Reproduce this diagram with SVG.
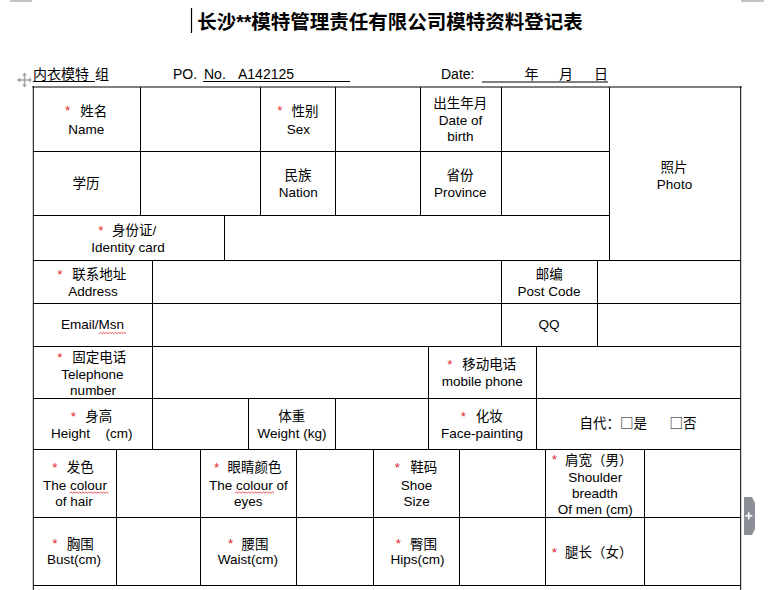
<svg xmlns="http://www.w3.org/2000/svg" width="777" height="590" viewBox="0 0 777 590">
<style>
text{font-family:"Liberation Sans","Noto Sans CJK SC",sans-serif;font-size:13.5px;fill:#000}
.c{text-anchor:middle}
.s{text-anchor:middle;fill:#e3262b}
.g line{stroke:#000;stroke-width:1}
.b{stroke:#000;stroke-width:2}
.w{fill:none;stroke:#e3262b;stroke-width:0.8}
.h{font-size:14px}
.k{font-family:"Noto Sans CJK SC",sans-serif}
</style>
<rect width="777" height="590" fill="#fff"/>
<g id="page-marks">
<line x1="10" y1="1" x2="32" y2="1" stroke="#9a9a9a" stroke-width="1.2"/>
<line x1="741" y1="1" x2="764" y2="1" stroke="#9a9a9a" stroke-width="1.2"/>
<line x1="191.5" y1="8" x2="191.5" y2="33" stroke="#000" stroke-width="1.2"/>
</g>
<g id="title">
<text x="390" y="29" class="c" style="font-size:19.5px;font-weight:bold">长沙**模特管理责任有限公司模特资料登记表</text>
</g>
<g id="move-handle" fill="#9aa0a6">
<polygon points="24.5,72.5 27,75.5 22,75.5"/>
<polygon points="24.5,87.5 27,84.5 22,84.5"/>
<polygon points="17,80 20,77.5 20,82.5"/>
<polygon points="32,80 29,77.5 29,82.5"/>
<rect x="23.8" y="75" width="1.4" height="10"/>
<rect x="19.5" y="79.3" width="10" height="1.4"/>
</g>
<g id="header">
<text x="33" y="79" class="h">内衣模特<tspan x="95">组</tspan></text>
<line x1="33" y1="81.5" x2="95" y2="81.5" stroke="#000" stroke-width="1"/>
<text x="173" y="79" class="h">PO.<tspan x="204">No.</tspan><tspan x="238">A142125</tspan></text>
<line x1="203" y1="81.5" x2="350" y2="81.5" stroke="#000" stroke-width="1"/>
<text x="441" y="79" class="h">Date:</text>
<line x1="482" y1="82" x2="608" y2="82" stroke="#000" stroke-width="1"/>
<text x="524.5" y="79" class="h">年<tspan x="559">月</tspan><tspan x="594">日</tspan></text>
</g>
<g id="connectors" class="g">
<line class="b" x1="32.3" y1="87" x2="741.7" y2="87"/>
<line class="b" x1="33.3" y1="86" x2="33.3" y2="590"/>
<line class="b" x1="740.7" y1="86" x2="740.7" y2="590"/>
<line x1="33" y1="151.5" x2="609.5" y2="151.5"/>
<line x1="33" y1="215.5" x2="609.5" y2="215.5"/>
<line x1="33" y1="260.5" x2="741" y2="260.5"/>
<line x1="33" y1="303.5" x2="741" y2="303.5"/>
<line x1="33" y1="346.5" x2="741" y2="346.5"/>
<line x1="33" y1="398.5" x2="741" y2="398.5"/>
<line x1="33" y1="449.5" x2="741" y2="449.5"/>
<line x1="33" y1="517.5" x2="741" y2="517.5"/>
<line x1="33" y1="585.5" x2="741" y2="585.5"/>
<line x1="140.5" y1="87" x2="140.5" y2="215.5"/>
<line x1="260.5" y1="87" x2="260.5" y2="215.5"/>
<line x1="335.5" y1="87" x2="335.5" y2="215.5"/>
<line x1="420.5" y1="87" x2="420.5" y2="215.5"/>
<line x1="501.5" y1="87" x2="501.5" y2="215.5"/>
<line x1="609.5" y1="87" x2="609.5" y2="260.5"/>
<line x1="224.5" y1="215.5" x2="224.5" y2="260.5"/>
<line x1="152.5" y1="260.5" x2="152.5" y2="449.5"/>
<line x1="501.5" y1="260.5" x2="501.5" y2="346.5"/>
<line x1="597.5" y1="260.5" x2="597.5" y2="346.5"/>
<line x1="428.5" y1="346.5" x2="428.5" y2="449.5"/>
<line x1="536.5" y1="346.5" x2="536.5" y2="449.5"/>
<line x1="248.5" y1="398.5" x2="248.5" y2="449.5"/>
<line x1="335.5" y1="398.5" x2="335.5" y2="449.5"/>
<line x1="116.5" y1="449.5" x2="116.5" y2="585.5"/>
<line x1="200.5" y1="449.5" x2="200.5" y2="585.5"/>
<line x1="296.5" y1="449.5" x2="296.5" y2="585.5"/>
<line x1="373.5" y1="449.5" x2="373.5" y2="585.5"/>
<line x1="459.5" y1="449.5" x2="459.5" y2="585.5"/>
<line x1="545.5" y1="449.5" x2="545.5" y2="585.5"/>
<line x1="644.5" y1="449.5" x2="644.5" y2="585.5"/>
</g>
<g id="name"><text x="67.7" y="115" class="s">*</text><text x="93.7" y="115.5" class="c">姓名</text><text x="86.3" y="134" class="c">Name</text></g>
<g id="sex"><text x="280" y="115" class="s">*</text><text x="305" y="115.5" class="c">性别</text><text x="298.3" y="134" class="c">Sex</text></g>
<g id="birth"><text x="460.3" y="107.5" class="c">出生年月</text><text x="460.5" y="125" class="c">Date of</text><text x="460.5" y="141" class="c">birth</text></g>
<g id="photo"><text x="674" y="172" class="c">照片</text><text x="674.5" y="188.5" class="c">Photo</text></g>
<g id="education"><text x="86" y="188" class="c">学历</text></g>
<g id="nation"><text x="298" y="180" class="c">民族</text><text x="298.2" y="197" class="c">Nation</text></g>
<g id="province"><text x="460" y="180" class="c">省份</text><text x="460.3" y="197" class="c">Province</text></g>
<g id="idcard"><text x="101" y="234.5" class="s">*</text><text x="112" y="235">身份证/</text><text x="128" y="252" class="c">Identity card</text></g>
<g id="address"><text x="60" y="278.5" class="s">*</text><text x="99.2" y="279" class="c">联系地址</text><text x="93" y="296" class="c">Address</text></g>
<g id="postcode"><text x="549.3" y="279" class="c">邮编</text><text x="549" y="296" class="c">Post Code</text></g>
<g id="email"><text x="92.5" y="329" class="c">Email/Msn</text>
<path class="w" d="M99,333.6 l1.5,-1.2 l1.5,1.2 l1.5,-1.2 l1.5,1.2 l1.5,-1.2 l1.5,1.2 l1.5,-1.2 l1.5,1.2 l1.5,-1.2 l1.5,1.2 l1.5,-1.2 l1.5,1.2 l1.5,-1.2 l1.5,1.2 l1.5,-1.2 l1.5,1.2 l1.5,-1.2 l1.5,1.2"/></g>
<g id="qq"><text x="549" y="329" class="c">QQ</text></g>
<g id="telephone"><text x="60" y="361.5" class="s">*</text><text x="99.2" y="362" class="c">固定电话</text><text x="92.3" y="378.5" class="c">Telephone</text><text x="93" y="394.5" class="c">number</text></g>
<g id="mobile"><text x="450" y="368.5" class="s">*</text><text x="489.2" y="369" class="c">移动电话</text><text x="482.3" y="386" class="c">mobile phone</text></g>
<g id="height"><text x="73.3" y="420.5" class="s">*</text><text x="98.8" y="421" class="c">身高</text><text x="51" y="438">Height<tspan x="105.5">(cm)</tspan></text></g>
<g id="weight"><text x="291.7" y="421" class="c">体重</text><text x="292" y="438" class="c">Weight (kg)</text></g>
<g id="makeup"><text x="463.3" y="420.5" class="s">*</text><text x="489.3" y="421" class="c">化妆</text><text x="482" y="438" class="c">Face-painting</text></g>
<g id="self"><text x="579.5" y="428" class="k">自代：□是</text><text x="669.5" y="428" class="k">□否</text></g>
<g id="hair"><text x="55" y="471.5" class="s">*</text><text x="80.3" y="472" class="c">发色</text><text x="75" y="490" class="c">The colour</text><text x="74" y="506" class="c">of hair</text>
<path class="w" d="M69.3,493.2 l1.5,-1.2 l1.5,1.2 l1.5,-1.2 l1.5,1.2 l1.5,-1.2 l1.5,1.2 l1.5,-1.2 l1.5,1.2 l1.5,-1.2 l1.5,1.2 l1.5,-1.2 l1.5,1.2 l1.5,-1.2 l1.5,1.2 l1.5,-1.2 l1.5,1.2 l1.5,-1.2 l1.5,1.2 l1.5,-1.2 l1.5,1.2 l1.5,-1.2 l1.5,1.2 l1.5,-1.2 l1.5,1.2 l1.5,-1.2 l1.5,1.2"/></g>
<g id="eyes"><text x="216.7" y="471.5" class="s">*</text><text x="254.5" y="472" class="c">眼睛颜色</text><text x="248.3" y="490" class="c">The colour of</text><text x="248.3" y="506" class="c">eyes</text>
<path class="w" d="M235,493.2 l1.5,-1.2 l1.5,1.2 l1.5,-1.2 l1.5,1.2 l1.5,-1.2 l1.5,1.2 l1.5,-1.2 l1.5,1.2 l1.5,-1.2 l1.5,1.2 l1.5,-1.2 l1.5,1.2 l1.5,-1.2 l1.5,1.2 l1.5,-1.2 l1.5,1.2 l1.5,-1.2 l1.5,1.2 l1.5,-1.2 l1.5,1.2 l1.5,-1.2 l1.5,1.2 l1.5,-1.2 l1.5,1.2 l1.5,-1.2 l1.5,1.2"/></g>
<g id="shoe"><text x="397.3" y="471.5" class="s">*</text><text x="423.7" y="472" class="c">鞋码</text><text x="416.5" y="489.5" class="c">Shoe</text><text x="416.7" y="506" class="c">Size</text></g>
<g id="shoulder"><text x="554.3" y="464" class="s">*</text><text x="565" y="464.5">肩宽（男）</text><text x="595.3" y="481.7" class="c">Shoulder</text><text x="595" y="497.7" class="c">breadth</text><text x="595.3" y="513.5" class="c">Of men (cm)</text></g>
<g id="bust"><text x="55" y="548" class="s">*</text><text x="80.3" y="548.5" class="c">胸围</text><text x="74" y="564" class="c">Bust(cm)</text></g>
<g id="waist"><text x="230.7" y="548" class="s">*</text><text x="255" y="548.5" class="c">腰围</text><text x="247.8" y="564" class="c">Waist(cm)</text></g>
<g id="hips"><text x="398.3" y="548" class="s">*</text><text x="423.5" y="548.5" class="c">臀围</text><text x="417.5" y="564" class="c">Hips(cm)</text></g>
<g id="leg"><text x="554.3" y="556.5" class="s">*</text><text x="565" y="557">腿长（女）</text></g>
<g id="add-tab">
<path d="M744,497 H752 L755,503 V529 L752,535 H744 Z" fill="#8a9096"/>
<rect x="745.3" y="515" width="7" height="1.6" fill="#fff"/>
<rect x="748" y="512.3" width="1.6" height="7" fill="#fff"/>
</g>
</svg>
